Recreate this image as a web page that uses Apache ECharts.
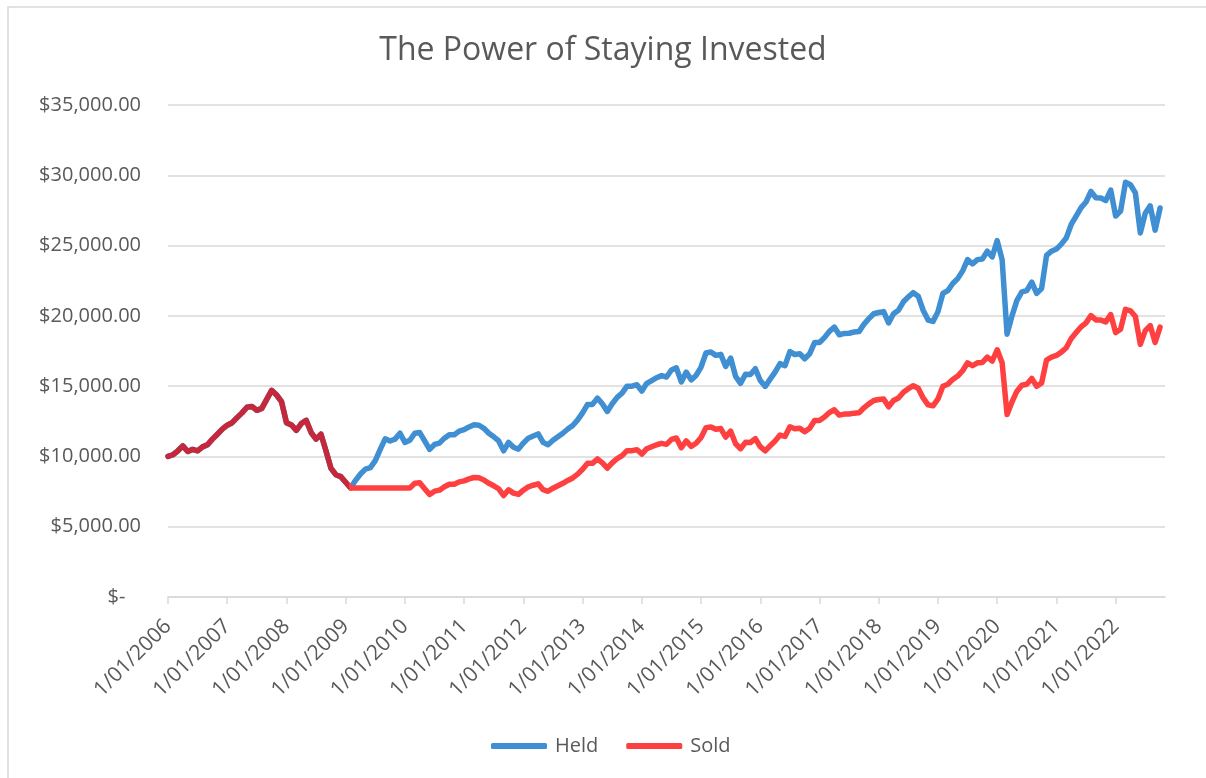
<!DOCTYPE html>
<html>
<head>
<meta charset="utf-8">
<title>The Power of Staying Invested</title>
<script src="https://cdn.jsdelivr.net/npm/echarts@6/dist/echarts.min.js"></script>
<style>
  html, body { margin: 0; padding: 0; background: #fff; }
  #chart { width: 1206px; height: 778px; }
</style>
</head>
<body>
<div id="chart"></div>
<script>
// ── Data ────────────────────────────────────────────────────────────────────

const START_YEAR = 2006;
const MONTH_COUNT = 203; // Jan 2006 .. Nov 2022 (axis runs one month past the data)

const SERIES_NAMES = ['Held', 'Sold'];

// Portfolio value, month by month, stayed in the market the whole time
const held = [
  10000, 10120, 10400, 10750, 10350, 10500, 10400, 10680, 10830, 11230, 11580, 11940,
  12220, 12400, 12760, 13100, 13500, 13560, 13280, 13420, 14060, 14700, 14370, 13900,
  12400, 12240, 11860, 12340, 12570, 11700, 11230, 11580, 10400, 9170, 8700, 8560,
  8160, 7760, 8300, 8750, 9100, 9200, 9700, 10500, 11250, 11100, 11230, 11650,
  11000, 11150, 11650, 11700, 11100, 10500, 10850, 10950, 11300, 11550, 11550, 11800,
  11900, 12100, 12250, 12220, 12000, 11650, 11400, 11100, 10400, 11000, 10650, 10520,
  10950, 11300, 11450, 11600, 11000, 10830, 11150, 11400, 11650, 11950, 12200, 12600,
  13100, 13700, 13700, 14150, 13750, 13200, 13750, 14200, 14500, 15000, 15000, 15100,
  14650, 15200, 15400, 15600, 15750, 15650, 16150, 16300, 15300, 16000, 15450, 15760,
  16360, 17360, 17430, 17190, 17260, 16400, 17000, 15700, 15200, 15850, 15830, 16240,
  15400, 14980, 15500, 16000, 16600, 16450, 17450, 17250, 17300, 16950, 17300, 18100,
  18100, 18450, 18900, 19200, 18650, 18750, 18760, 18850, 18880, 19400, 19800, 20150,
  20240, 20300, 19500, 20150, 20400, 21000, 21350, 21650, 21400, 20400, 19700, 19600,
  20300, 21600, 21800, 22300, 22650, 23200, 24000, 23700, 24000, 24050, 24600, 24200,
  25350, 24000, 18700, 20000, 21100, 21700, 21800, 22400, 21600, 21950, 24300, 24600,
  24750, 25100, 25550, 26500, 27100, 27700, 28100, 28850, 28400, 28380, 28200, 28950,
  27100, 27450, 29500, 29330, 28750, 25900, 27300, 27830, 26100, 27670
];

// Portfolio value when sold at the 2009 low, sat in cash, then bought back in
const sold = [
  10000, 10120, 10400, 10750, 10350, 10500, 10400, 10680, 10830, 11230, 11580, 11940,
  12220, 12400, 12760, 13100, 13500, 13560, 13280, 13420, 14060, 14700, 14370, 13900,
  12400, 12240, 11860, 12340, 12570, 11700, 11230, 11580, 10400, 9170, 8700, 8560,
  8160, 7760, 7760, 7760, 7760, 7760, 7760, 7760, 7760, 7760, 7760, 7760,
  7760, 7760, 8090, 8120, 7700, 7290, 7530, 7600, 7840, 8020, 8020, 8190,
  8260, 8400, 8500, 8480, 8330, 8090, 7910, 7700, 7220, 7630, 7390, 7300,
  7600, 7840, 7950, 8050, 7630, 7520, 7740, 7910, 8090, 8290, 8470, 8740,
  9090, 9510, 9510, 9820, 9540, 9160, 9540, 9850, 10060, 10410, 10410, 10480,
  10170, 10550, 10690, 10830, 10930, 10860, 11210, 11310, 10620, 11100, 10720, 10940,
  11350, 12050, 12100, 11930, 11980, 11380, 11800, 10900, 10550, 11000, 10990, 11270,
  10690, 10400, 10760, 11100, 11520, 11420, 12110, 11970, 12010, 11760, 12010, 12560,
  12560, 12800, 13120, 13320, 12940, 13010, 13020, 13080, 13100, 13460, 13740, 13980,
  14050, 14090, 13530, 13980, 14160, 14570, 14820, 15030, 14850, 14160, 13670, 13600,
  14090, 14990, 15130, 15480, 15720, 16100, 16660, 16450, 16660, 16690, 17070, 16790,
  17590, 16660, 12980, 13880, 14640, 15060, 15130, 15550, 14990, 15230, 16860, 17070,
  17180, 17420, 17730, 18390, 18810, 19220, 19500, 20020, 19710, 19700, 19570, 20090,
  18810, 19050, 20470, 20360, 19950, 17970, 18950, 19310, 18110, 19200
];

const Y_MIN = 0;
const Y_MAX = 35000;
const Y_STEP = 5000;

// ── Helpers ─────────────────────────────────────────────────────────────────

function monthLabels() {
  const out = [];
  for (let i = 0; i < MONTH_COUNT; i++) {
    const y = START_YEAR + Math.floor(i / 12);
    const m = (i % 12) + 1;
    out.push(`1/${String(m).padStart(2, '0')}/${y}`);
  }
  return out;
}

function money(v) {
  if (v === 0) return '$-   ';
  return '$' + v.toLocaleString('en-US', { minimumFractionDigits: 2, maximumFractionDigits: 2 });
}

// ── Chart ───────────────────────────────────────────────────────────────────

const FONT = '"Open Sans", "Noto Sans", sans-serif';
const TEXT = '#595959';
const GRID = '#d9d9d9';
const BLUE = '#3F8FD2';
const RED = '#FF4040';
const OVERLAP = '#C4283A';

// the two lines share the same path until the sale, so that part shows darker
const overlapEnd = 37 / (sold.length - 1);

const chart = echarts.init(document.getElementById('chart'), null, { renderer: 'canvas' });

chart.setOption({
  animation: false,
  backgroundColor: '#fff',
  textStyle: { fontFamily: FONT },
  graphic: [{
    type: 'rect',
    shape: { x: 8, y: 7, width: 1400, height: 900 },
    style: { fill: 'none', stroke: GRID, lineWidth: 1.5 },
    silent: true
  }],
  title: {
    text: 'The Power of Staying Invested',
    left: 'center',
    top: 30,
    textStyle: { fontFamily: FONT, fontSize: 32, fontWeight: 'normal', color: TEXT }
  },
  legend: {
    data: [
      { name: SERIES_NAMES[0], itemStyle: { color: BLUE } },
      { name: SERIES_NAMES[1], itemStyle: { color: RED } }
    ],
    left: 486,
    top: 731,
    icon: 'roundRect',
    itemWidth: 56,
    itemHeight: 6,
    itemGap: 28,
    textStyle: { fontFamily: FONT, fontSize: 20, color: TEXT, padding: [0, 0, 0, 3] }
  },
  grid: { left: 168, right: 41, top: 105, bottom: 181 },
  xAxis: {
    type: 'category',
    data: monthLabels(),
    boundaryGap: false,
    axisLine: { lineStyle: { color: GRID, width: 1.5 } },
    axisTick: { interval: 11, length: 7, lineStyle: { color: GRID, width: 1.5 } },
    axisLabel: {
      interval: 11,
      rotate: 45,
      margin: 26,
      fontFamily: FONT,
      fontSize: 21,
      color: TEXT
    },
    splitLine: { show: false }
  },
  yAxis: {
    type: 'value',
    min: Y_MIN,
    max: Y_MAX,
    interval: Y_STEP,
    axisLine: { show: false },
    axisTick: { show: false },
    axisLabel: { margin: 27, fontFamily: FONT, fontSize: 20, color: TEXT, formatter: money },
    splitLine: { lineStyle: { color: GRID, width: 1.5 } }
  },
  series: [
    {
      name: SERIES_NAMES[0],
      type: 'line',
      data: held,
      symbol: 'none',
      z: 2,
      itemStyle: { color: BLUE },
      lineStyle: { color: BLUE, width: 5.5, join: 'round', cap: 'round' }
    },
    {
      name: SERIES_NAMES[1],
      type: 'line',
      data: sold,
      symbol: 'none',
      z: 3,
      itemStyle: { color: RED },
      lineStyle: {
        width: 5.5,
        join: 'round',
        cap: 'round',
        color: {
          type: 'linear', x: 0, y: 0, x2: 1, y2: 0,
          colorStops: [
            { offset: 0, color: OVERLAP },
            { offset: overlapEnd, color: OVERLAP },
            { offset: overlapEnd, color: RED },
            { offset: 1, color: RED }
          ]
        }
      }
    }
  ]
});

window.addEventListener('resize', () => chart.resize());
</script>
</body>
</html>
